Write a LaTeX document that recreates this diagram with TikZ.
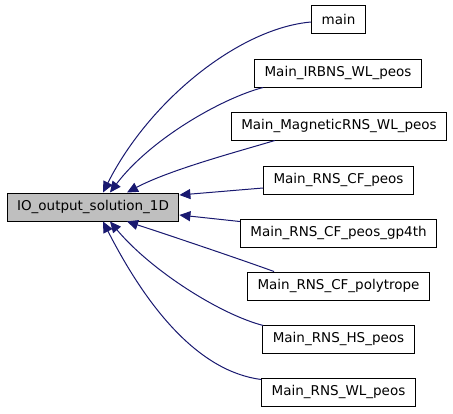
\documentclass[tikz,border=0pt]{standalone}
\usepackage{fontspec}
\setmainfont{DejaVu Sans}
\usepackage{tikz}
\usetikzlibrary{arrows.meta,calc}
\definecolor{edgeblue}{RGB}{25,25,112}
\definecolor{focusgray}{RGB}{191,191,191}

\begin{document}
\begin{tikzpicture}[x=1pt,y=-1pt]
\tikzset{every node/.style={draw,line width=1pt,minimum height=28pt,inner xsep=10pt,inner ysep=0pt,font=\fontsize{13.5}{16}\selectfont},
         focus/.style={fill=focusgray},
         caller/.style={fill=white},
         calledge/.style={draw=edgeblue,line width=1pt,-{Triangle[length=11pt,width=10pt]}}}
\useasboundingbox (0,0) rectangle (453,413);
\node[focus] (io) at (93,207) {IO\_output\_solution\_1D};
\node[caller] (main) at (338.5,19) {main};
\node[caller] (irbns) at (338,73) {Main\_IRBNS\_WL\_peos};
\node[caller] (magrns) at (339,126) {Main\_MagneticRNS\_WL\_peos};
\node[caller] (cfpeos) at (338.5,180) {Main\_RNS\_CF\_peos};
\node[caller] (cfgp) at (338.5,233) {Main\_RNS\_CF\_peos\_gp4th};
\node[caller] (cfpoly) at (338.5,286) {Main\_RNS\_CF\_polytrope};
\node[caller] (hspeos) at (338.5,339) {Main\_RNS\_HS\_peos};
\node[caller] (wlpeos) at (338.5,392) {Main\_RNS\_WL\_peos};
% callers above
\draw[calledge] ($(main.west)+(0,3)$) .. controls +(-71,6) and +(47,-93) .. ($(io.north)+(10,0)$);
\draw[calledge] ($(irbns.south west)+(9,0)$) .. controls +(-42,11) and +(40,-53) .. ($(io.north)+(17,0)$);
\draw[calledge] ($(magrns.south west)+(44,0)$) .. controls +(-33,10) and +(43,-23) .. ($(io.north)+(34,0)$);
\draw[calledge] ($(cfpeos.west)+(0,8)$) -- ($(io.east)+(0,-12)$);
\draw[calledge] ($(cfgp.north west)+(0,3)$) -- ($(io.east)+(0,8)$);
% callers below
\draw[calledge] ($(cfpoly.north west)+(27,0)$) .. controls +(-33,-12) and +(43,14) .. ($(io.south)+(34,0)$);
\draw[calledge] ($(hspeos.north west)+(1,1)$) .. controls +(-43,-11) and +(41,49) .. ($(io.south)+(17,0)$);
\draw[calledge] ($(wlpeos.north west)+(0,2)$) .. controls +(-62,-8) and +(45,88) .. ($(io.south)+(10,0)$);
\end{tikzpicture}
\end{document}
